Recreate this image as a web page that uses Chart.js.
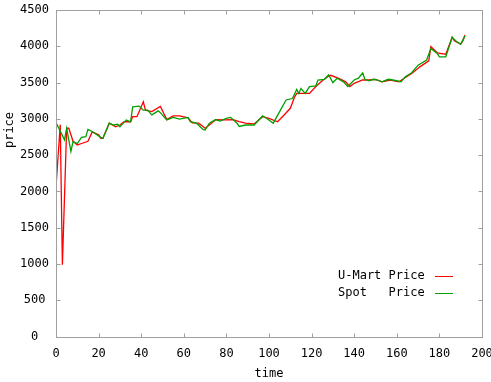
<!DOCTYPE html>
<html><head><meta charset="utf-8">
<script src="https://cdn.jsdelivr.net/npm/chart.js@4"></script>
<style>html,body{margin:0;padding:0;background:#fff}#wrap{width:491px;height:382px}</style>
</head><body><div id="wrap"><canvas id="c" width="491" height="382"></canvas></div>
<script>
const umartTime  = [0,2,3,5,6,8,10,12,15,17,20,21,22,25,28,30,32,35,36,38,41,42,45,49,52,55,58,62,64,67,70,72,75,79,83,86,89,93,97,100,104,107,110,112,113,119,122,125,128,129,133,136,138,140,144,147,150,153,157,161,164,167,171,175,176,179,181,183,186,187,190,191,192];
const umartPrice = [2060,2920,990,2870,2870,2690,2640,2660,2690,2820,2780,2730,2730,2940,2890,2915,2960,2960,3030,3030,3235,3120,3100,3170,2990,3040,3040,3015,2945,2940,2870,2915,2990,2985,2990,2960,2940,2930,3030,3005,2960,3050,3145,3300,3350,3350,3445,3525,3590,3600,3555,3510,3445,3490,3535,3535,3545,3510,3535,3510,3570,3625,3720,3800,3995,3910,3900,3890,4125,4075,4030,4075,4155];
const spotTime   = [0,4,5,7,8,10,12,14,15,17,21,22,25,27,29,30,33,35,36,39,41,43,45,48,49,52,55,58,62,63,66,69,70,72,75,77,80,82,85,86,89,93,97,99,102,105,108,111,113,114,115,117,119,122,123,126,128,130,132,135,137,140,142,144,145,147,149,151,153,156,160,162,164,167,170,174,176,179,180,183,186,188,190,192];
const spotPrice  = [2950,2710,2870,2550,2685,2660,2745,2755,2855,2825,2745,2730,2940,2915,2925,2890,2985,2960,3165,3175,3120,3120,3055,3110,3085,2985,3020,2995,3020,2960,2940,2855,2845,2940,2990,2970,3005,3020,2940,2895,2915,2915,3040,3005,2940,3100,3260,3280,3405,3350,3420,3350,3445,3455,3535,3545,3605,3500,3560,3510,3445,3535,3560,3635,3545,3525,3545,3535,3510,3545,3525,3510,3580,3635,3740,3810,3970,3900,3855,3855,4125,4065,4030,4140];
const seriesLabels = ['U-Mart Price', 'Spot   Price'];
const xTicks = [0,20,40,60,80,100,120,140,160,180,200];
const yTicks = [0,500,1000,1500,2000,2500,3000,3500,4000,4500];
const xTitle = 'time';
const yTitle = 'price';

const FONT = '"DejaVu Sans Mono", "Liberation Mono", monospace';

function pts(t, v){ return t.map((x,i)=>({x:x, y:v[i]})); }

const framePlugin = {
  id: 'frame',
  afterDraw(chart){
    const {ctx, chartArea:a, scales:{x, y}} = chart;
    ctx.save();
    ctx.strokeStyle = '#a0a0a0';
    ctx.lineWidth = 1;
    const L = Math.round(a.left)+0.5, R = Math.round(a.right)+0.5, T = Math.round(a.top)+0.5, B = Math.round(a.bottom)+0.5;
    ctx.strokeRect(L, T, R-L, B-T);
    ctx.beginPath();
    xTicks.forEach(v=>{
      const p = Math.round(x.getPixelForValue(v))+0.5;
      ctx.moveTo(p, B); ctx.lineTo(p, B-4);
      ctx.moveTo(p, T); ctx.lineTo(p, T+4);
    });
    yTicks.forEach(v=>{
      const p = Math.round(y.getPixelForValue(v))+0.5;
      ctx.moveTo(L, p); ctx.lineTo(L+4, p);
      ctx.moveTo(R, p); ctx.lineTo(R-4, p);
    });
    ctx.stroke();
    // titles
    ctx.fillStyle = '#000';
    ctx.font = '12px ' + FONT;
    ctx.textAlign = 'center';
    ctx.textBaseline = 'middle';
    ctx.fillText(xTitle, (a.left + a.right)/2, 374);
    ctx.save();
    ctx.translate(10, 130);
    ctx.rotate(-Math.PI/2);
    ctx.fillText(yTitle, 0, 0);
    ctx.restore();
    // legend (gnuplot style: text left, sample right)
    ctx.textAlign = 'left';
    chart.data.datasets.forEach((ds, i)=>{
      const yy = 276 + i*17;
      ctx.fillStyle = '#000';
      ctx.fillText(ds.label, 338, yy);
      ctx.strokeStyle = ds.borderColor;
      ctx.lineWidth = 1;
      ctx.beginPath();
      ctx.moveTo(435, yy+0.5); ctx.lineTo(453, yy+0.5);
      ctx.stroke();
    });
    ctx.restore();
  }
};

new Chart(document.getElementById('c'), {
  type: 'line',
  data: {
    datasets: [
      {label: seriesLabels[0], data: pts(umartTime, umartPrice), borderColor: '#ff0000', borderWidth: 1.3, pointRadius: 0, tension: 0, fill: false, order: 1},
      {label: seriesLabels[1], data: pts(spotTime, spotPrice), borderColor: '#00a000', borderWidth: 1.3, pointRadius: 0, tension: 0, fill: false, order: 0}
    ]
  },
  options: {
    responsive: false,
    animation: false,
    devicePixelRatio: 1,
    layout: {autoPadding: false, padding: {left: 0, top: 10, right: 9, bottom: 0}},
    plugins: {legend: {display: false}, tooltip: {enabled: false}},
    scales: {
      x: {
        type: 'linear', min: 0, max: 200,
        afterBuildTicks: s => { s.ticks = xTicks.map(v=>({value:v})); },
        afterFit: s => { s.height = 45.5; s.paddingLeft = 0; s.paddingRight = 0; s.paddingTop = 0; s.paddingBottom = 0; },
        grid: {display: false, drawTicks: false},
        border: {display: false},
        ticks: {color: '#000', font: {family: FONT, size: 12}, padding: 10, maxRotation: 0, autoSkip: false, callback: v => String(v)}
      },
      y: {
        type: 'linear', min: 0, max: 4500,
        afterBuildTicks: s => { s.ticks = yTicks.map(v=>({value:v})); },
        afterFit: s => { s.width = 56; s.paddingLeft = 0; s.paddingRight = 0; s.paddingTop = 0; s.paddingBottom = 0; },
        grid: {display: false, drawTicks: false},
        border: {display: false},
        ticks: {color: '#000', font: {family: FONT, size: 12}, padding: 7, crossAlign: 'center', autoSkip: false, callback: v => String(v)}
      }
    }
  },
  plugins: [framePlugin]
});
</script>
</body></html>
